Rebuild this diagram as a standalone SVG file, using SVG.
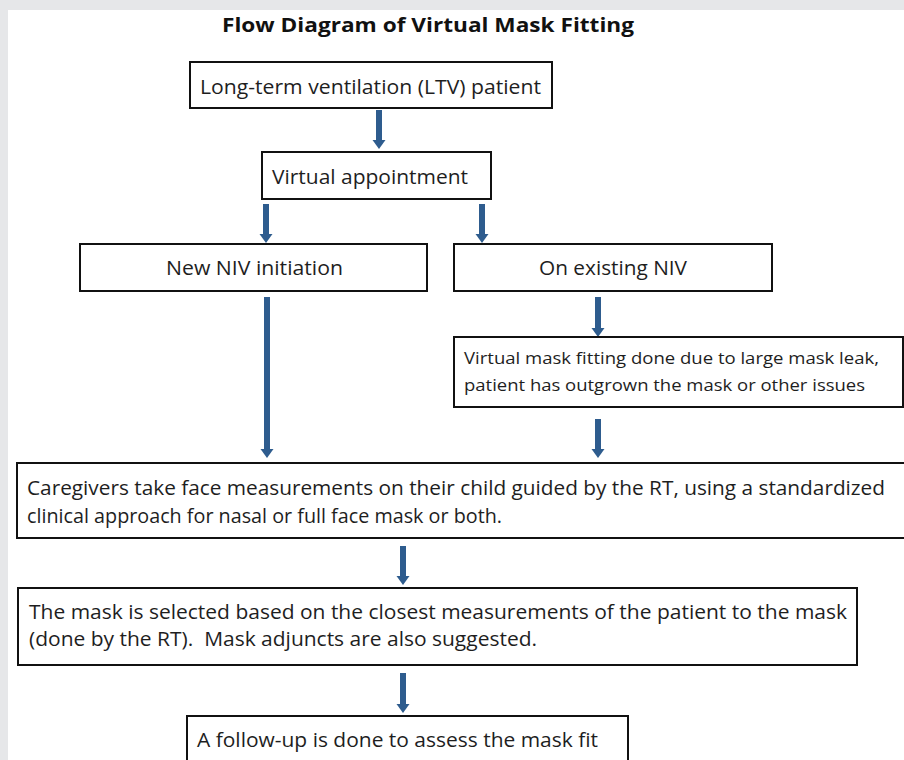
<svg xmlns="http://www.w3.org/2000/svg" width="904" height="760" viewBox="0 0 904 760">
<style>
.box{fill:#fff;stroke:#111;stroke-width:2}
.t{font-family:"Open Sans","Liberation Sans",sans-serif;font-size:20px;fill:#1e1e1e}
.s{font-family:"Open Sans","Liberation Sans",sans-serif;font-size:17px;fill:#1e1e1e}
.title{font-family:"Open Sans","Liberation Sans",sans-serif;font-size:20px;font-weight:bold;fill:#111}
.arr{stroke:#2e5c8e;stroke-width:6;fill:none;marker-end:url(#ah)}
</style>
<defs>
<marker id="ah" markerUnits="userSpaceOnUse" markerWidth="10" markerHeight="14" refX="0" refY="7" orient="auto">
<path d="M0,0.5 L9,7 L0,13.5 z" fill="#2e5c8e"/>
</marker>
</defs>
<rect x="0" y="0" width="904" height="760" fill="#e6e7e9"/>
<rect x="8" y="10" width="896" height="750" fill="#fff"/>
<text class="title" x="222" y="32" textLength="412" lengthAdjust="spacingAndGlyphs">Flow Diagram of Virtual Mask Fitting</text>
<g id="connectors">
<line class="arr" x1="379" y1="110" x2="379" y2="140"/>
<line class="arr" x1="266" y1="204" x2="266" y2="234"/>
<line class="arr" x1="482" y1="204" x2="482" y2="234"/>
<line class="arr" x1="267" y1="297" x2="267" y2="449"/>
<line class="arr" x1="598" y1="297" x2="598" y2="328"/>
<line class="arr" x1="598" y1="419" x2="598" y2="449"/>
<line class="arr" x1="403" y1="546" x2="403" y2="576"/>
<line class="arr" x1="403" y1="673" x2="403" y2="704"/>
</g>
<g id="ltv">
<rect class="box" x="190" y="62" width="362" height="46"/>
<text class="t" x="200" y="94" textLength="341" lengthAdjust="spacingAndGlyphs">Long-term ventilation (LTV) patient</text>
</g>
<g id="virtual">
<rect class="box" x="262" y="152" width="229" height="47"/>
<text class="t" x="272" y="184" textLength="196" lengthAdjust="spacingAndGlyphs">Virtual appointment</text>
</g>
<g id="new-niv">
<rect class="box" x="80" y="244" width="347" height="47"/>
<text class="t" x="166" y="275" textLength="177" lengthAdjust="spacingAndGlyphs">New NIV initiation</text>
</g>
<g id="existing-niv">
<rect class="box" x="454" y="244" width="318" height="47"/>
<text class="t" x="539" y="275" textLength="148" lengthAdjust="spacingAndGlyphs">On existing NIV</text>
</g>
<g id="mask-fitting">
<rect class="box" x="454" y="337" width="449" height="70"/>
<text class="s" x="464" y="364" textLength="415" lengthAdjust="spacingAndGlyphs">Virtual mask fitting done due to large mask leak,</text>
<text class="s" x="464" y="391" textLength="401" lengthAdjust="spacingAndGlyphs">patient has outgrown the mask or other issues</text>
</g>
<g id="measurements">
<rect class="box" x="17" y="463" width="890" height="75"/>
<text class="t" x="27" y="495" textLength="858" lengthAdjust="spacingAndGlyphs">Caregivers take face measurements on their child guided by the RT, using a standardized</text>
<text class="t" x="27" y="523" textLength="475" lengthAdjust="spacingAndGlyphs">clinical approach for nasal or full face mask or both.</text>
</g>
<g id="selection">
<rect class="box" x="18" y="588" width="839" height="77"/>
<text class="t" x="29" y="619" textLength="818" lengthAdjust="spacingAndGlyphs">The mask is selected based on the closest measurements of the patient to the mask</text>
<text class="t" x="29" y="646" textLength="508" lengthAdjust="spacingAndGlyphs" xml:space="preserve" style="white-space:pre">(done by the RT).  Mask adjuncts are also suggested.</text>
</g>
<g id="follow-up">
<rect class="box" x="187" y="716" width="441" height="60"/>
<text class="t" x="197" y="747" textLength="401" lengthAdjust="spacingAndGlyphs">A follow-up is done to assess the mask fit</text>
</g>
</svg>
